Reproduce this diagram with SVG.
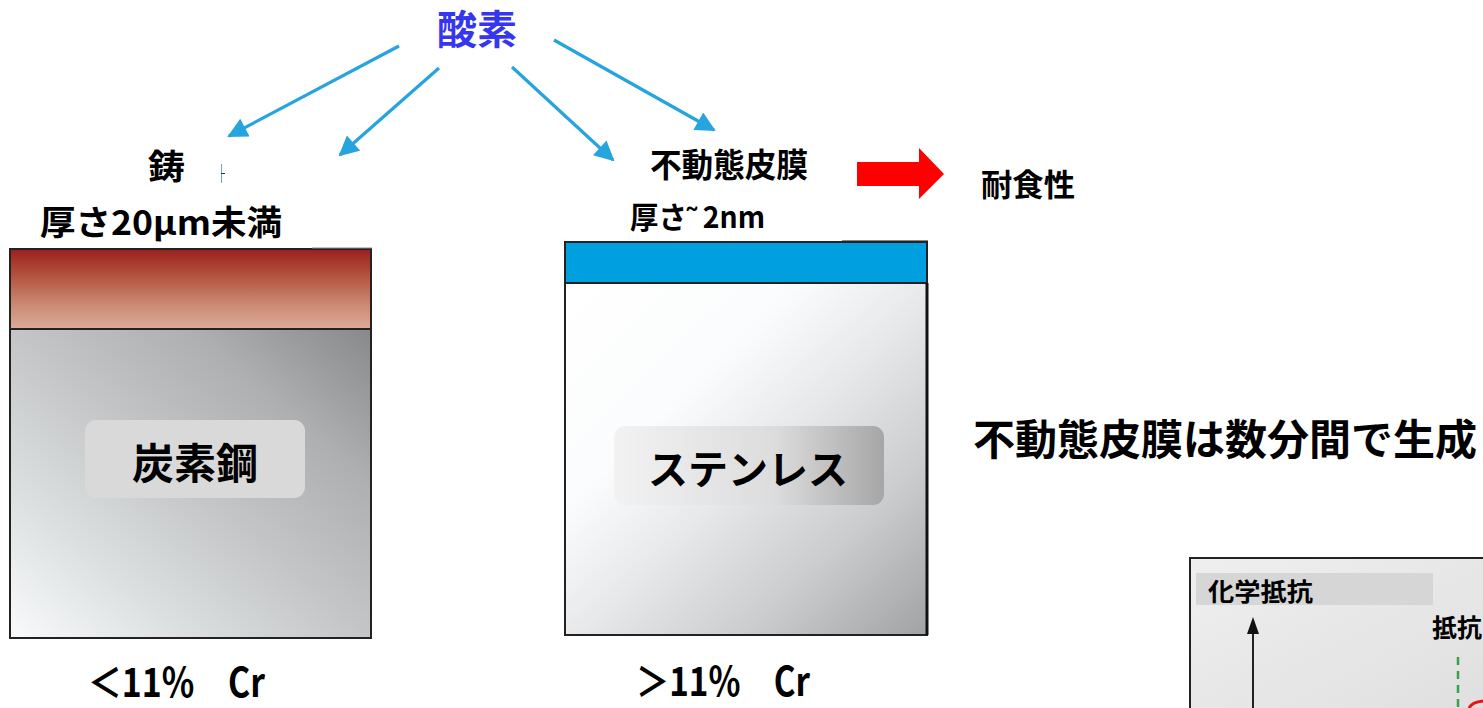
<svg xmlns="http://www.w3.org/2000/svg" width="1483" height="708" viewBox="0 0 1483 708">
<style>
.jp{font-family:"Noto Sans CJK JP","Liberation Sans",sans-serif;font-weight:bold;fill:#000}
.blue{stroke:#26a4de;stroke-width:3.2;fill:none}
.frame{stroke:#222;stroke-width:2}
</style>
<defs>
<marker id="bh" viewBox="0 0 10 10" refX="9" refY="5" markerWidth="22" markerHeight="20" markerUnits="userSpaceOnUse" orient="auto">
<path d="M0,0 L10,5 L0,10 z" fill="#26a4de"/>
</marker>
<linearGradient id="rust" x1="0" y1="0" x2="0" y2="1">
<stop offset="0" stop-color="#9b1f1f"/>
<stop offset="0.35" stop-color="#b4563f"/>
<stop offset="0.7" stop-color="#cb8a73"/>
<stop offset="1" stop-color="#dcab98"/>
</linearGradient>
<linearGradient id="steel" x1="0" y1="1" x2="1" y2="0">
<stop offset="0" stop-color="#f8fafc"/>
<stop offset="0.25" stop-color="#dcdfe0"/>
<stop offset="0.5" stop-color="#c3c5c7"/>
<stop offset="0.75" stop-color="#aeafb1"/>
<stop offset="1" stop-color="#88898b"/>
</linearGradient>
<linearGradient id="sus" x1="0" y1="0" x2="1" y2="1">
<stop offset="0" stop-color="#ffffff"/>
<stop offset="0.32" stop-color="#fbfcfd"/>
<stop offset="0.52" stop-color="#e6e8e9"/>
<stop offset="0.75" stop-color="#cacccd"/>
<stop offset="1" stop-color="#a0a2a4"/>
</linearGradient>
<linearGradient id="susLabel" x1="0" y1="0" x2="1" y2="0">
<stop offset="0" stop-color="#f2f2f2"/>
<stop offset="0.6" stop-color="#dcdcdc"/>
<stop offset="1" stop-color="#a6a6a6"/>
</linearGradient>
<linearGradient id="chartBg" x1="0" y1="0" x2="1" y2="1">
<stop offset="0" stop-color="#efefef"/>
<stop offset="1" stop-color="#dedede"/>
</linearGradient>
<filter id="blur" x="-50%" y="-20%" width="200%" height="140%">
<feGaussianBlur stdDeviation="3"/>
</filter>
</defs>

<g id="oxygen">
<text class="jp" x="477" y="44" font-size="40" text-anchor="middle" style="fill:#3636ee">酸素</text>
</g>

<g id="connectors">
<line class="blue" x1="399" y1="46" x2="229" y2="136" marker-end="url(#bh)"/>
<line class="blue" x1="439" y1="68" x2="340" y2="155" marker-end="url(#bh)"/>
<line class="blue" x1="512" y1="67" x2="613" y2="160" marker-end="url(#bh)"/>
<line class="blue" x1="554" y1="40" x2="714" y2="130" marker-end="url(#bh)"/>
<path d="M857,162 H919 V148 L944,174 L919,199 V186 H857 z" fill="#ff0000"/>
</g>

<g id="rust-label">
<text class="jp" x="148" y="179" font-size="34" textLength="37" lengthAdjust="spacingAndGlyphs">鋳</text>
<line x1="221.5" y1="164" x2="221.5" y2="183" stroke="#6aa6d6" stroke-width="1"/>
<line x1="221" y1="173.5" x2="225" y2="173.5" stroke="#333" stroke-width="1"/>
<text class="jp" x="40" y="235" font-size="34" textLength="242" lengthAdjust="spacingAndGlyphs">厚さ20μm未満</text>
</g>

<g id="carbon-steel">
<rect x="10" y="329" width="361" height="309" fill="url(#steel)"/>
<rect x="10" y="249" width="361" height="80" fill="url(#rust)"/>
<rect x="10" y="249" width="361" height="389" fill="none" class="frame"/>
<line x1="10" y1="329" x2="371" y2="329" class="frame"/>
<line x1="312" y1="248" x2="372" y2="248" stroke="#888" stroke-width="1"/>
<rect x="85" y="420" width="220" height="78" rx="11" fill="#d9d9d9"/>
<text class="jp" x="195" y="479" font-size="42" text-anchor="middle" font-weight="500">炭素鋼</text>
<text class="jp" x="88" y="697" font-size="40" textLength="177" lengthAdjust="spacingAndGlyphs" font-weight="500">＜11%　Cr</text>
</g>

<g id="passive-label">
<text class="jp" x="650" y="177" font-size="33" textLength="158" lengthAdjust="spacingAndGlyphs">不動態皮膜</text>
<text class="jp" x="630" y="228" font-size="30" textLength="135" lengthAdjust="spacingAndGlyphs">厚さ˜ 2nm</text>
</g>

<g id="stainless">
<rect x="565" y="283" width="362" height="352" fill="url(#sus)"/>
<rect x="565" y="242" width="362" height="41" fill="#009fe0"/>
<rect x="565" y="242" width="362" height="393" fill="none" class="frame"/>
<line x1="565" y1="283" x2="927" y2="283" class="frame"/>
<line x1="927" y1="283" x2="927" y2="635" stroke="#111" stroke-width="3"/>
<line x1="842" y1="240.5" x2="928" y2="240.5" stroke="#888" stroke-width="1"/>
<rect x="614" y="426" width="270" height="79" rx="11" fill="url(#susLabel)"/>
<text class="jp" x="748" y="484" font-size="40" text-anchor="middle" font-weight="500">ステンレス</text>
<text class="jp" x="636" y="696" font-size="40" textLength="174" lengthAdjust="spacingAndGlyphs" font-weight="500">＞11%　Cr</text>
</g>

<g id="corrosion-resistance">
<text class="jp" x="981" y="196" font-size="31" textLength="94" lengthAdjust="spacingAndGlyphs">耐食性</text>
</g>

<g id="note">
<text class="jp" x="973" y="455" font-size="42">不動態皮膜は数分間で生成</text>
</g>

<g id="chart">
<rect x="1190" y="558" width="320" height="170" fill="url(#chartBg)" class="frame"/>
<rect x="1196" y="573" width="237" height="32" fill="#d6d6d6"/>
<text class="jp" x="1208" y="601" font-size="25" textLength="105" lengthAdjust="spacingAndGlyphs">化学抵抗</text>
<line x1="1259" y1="630" x2="1259" y2="708" stroke="#777" stroke-width="4" filter="url(#blur)"/>
<line x1="1253" y1="632" x2="1253" y2="708" stroke="#222" stroke-width="2"/>
<path d="M1253,617 L1259,634 L1247,634 z" fill="#111"/>
<text class="jp" x="1432" y="637" font-size="25">抵抗</text>
<line x1="1458" y1="657" x2="1458" y2="708" stroke="#3aa04a" stroke-width="2.5" stroke-dasharray="8,6"/>
<path d="M1469,708 Q1472,702 1483,701" fill="none" stroke="#ee1111" stroke-width="3"/>
</g>
</svg>
